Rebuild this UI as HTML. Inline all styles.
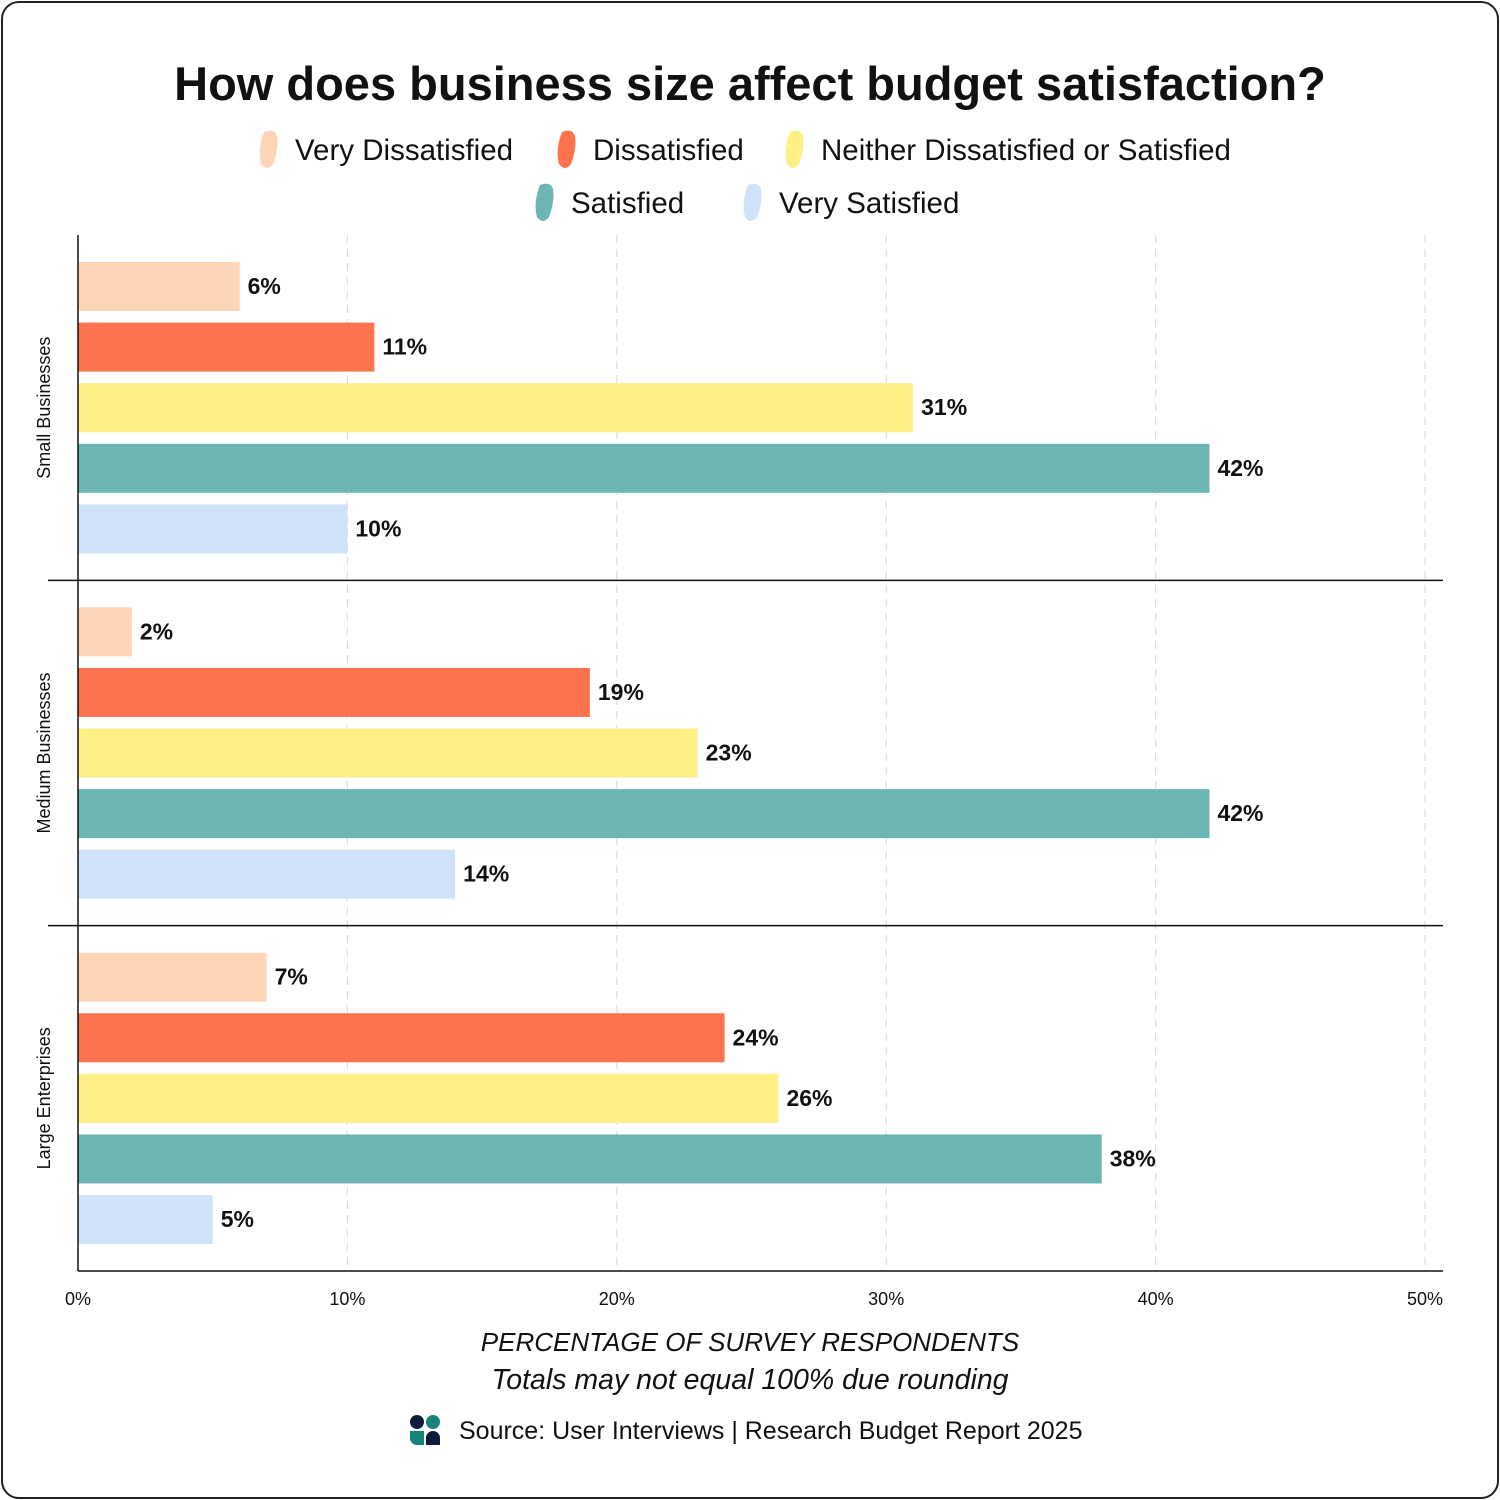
<!DOCTYPE html>
<html><head><meta charset="utf-8">
<style>
html,body{margin:0;padding:0;background:#fff;}
body{width:1500px;height:1500px;position:relative;overflow:hidden;font-family:"Liberation Sans",sans-serif;}
#frame{position:absolute;left:1px;top:1px;width:1494px;height:1494px;border:2px solid #222;border-radius:18px;}
svg{position:absolute;left:0;top:0;}
</style></head><body>
<div id="frame"></div>
<svg id="chart" width="1500" height="1500"></svg>
<script>
const groups = ["Small Businesses","Medium Businesses","Large Enterprises"];
const seriesNames = ["Very Dissatisfied","Dissatisfied","Neither Dissatisfied or Satisfied","Satisfied","Very Satisfied"];
const seriesColors = ["#fed5b6","#fe734d","#fef085","#6bb5b3","#cfe2f8"];
const smallValues = [6,11,31,42,10];
const mediumValues = [2,19,23,42,14];
const largeValues = [7,24,26,38,5];
const ticks = [0,10,20,30,40,50];
const tickLabels = ["0%","10%","20%","30%","40%","50%"];
const values = [smallValues, mediumValues, largeValues];

const NS="http://www.w3.org/2000/svg";
const svg=document.getElementById('chart');
function mk(tag,attrs,parent){const e=document.createElementNS(NS,tag);for(const k in attrs)e.setAttribute(k,attrs[k]);(parent||svg).appendChild(e);return e;}
const plotLeft=78,plotRight=1425,plotTop=235,plotBottom=1271,plotEdge=1443;
const xs=v=>plotLeft+(v/50)*(plotRight-plotLeft);
const bandH=(plotBottom-plotTop)/groups.length;

let t=mk('text',{x:750,y:100,'text-anchor':'middle','font-size':47,'font-weight':'bold',fill:'#111'});
t.textContent="How does business size affect budget satisfaction?";



const legendPos=[[270,150],[568,150],[796,150],[546,203],[754,203]];
seriesNames.forEach((n,i)=>{
  const g=mk('g',{});
  
  
  const [lx,ly]=legendPos[i];
  mk('path',{d:`M${lx-6},${ly-18} q10,-4 13,4 q2,12 -4,28 q-6,8 -12,0 q-4,-14 3,-32z`,fill:seriesColors[i]},g);
  const tx=mk('text',{x:lx+25,y:ly+10,'font-size':29.5,fill:'#111'},g);
  tx.textContent=n;
});

ticks.forEach((v,i)=>{
  if(v>0){const l=mk('line',{x1:xs(v),x2:xs(v),y1:plotTop,y2:plotBottom,stroke:'#ddd','stroke-width':1.2,'stroke-dasharray':'8,6'});
  
  }
  const tl=mk('text',{x:xs(v),y:1305,'text-anchor':'middle','font-size':18,fill:'#111'});
  tl.textContent=tickLabels[i];
  
  
});

groups.forEach((gname,gi)=>{
  const gt=plotTop+gi*bandH;
  const lab=mk('text',{transform:`translate(50,${gt+bandH/2}) rotate(-90)`,'text-anchor':'middle','font-size':18,fill:'#111'});
  lab.textContent=gname;
  
  
  values[gi].forEach((v,si)=>{
    const y=gt+27+si*60.6;
    const r=mk('rect',{x:plotLeft,y:y,width:xs(v)-plotLeft,height:49,fill:seriesColors[si]});
    
    
    const vl=mk('text',{x:xs(v)+8,y:y+32,'font-size':23,'font-weight':'bold',fill:'#111'});
    vl.textContent=v+'%';
    
    
  });
  if(gi>0){const s=mk('line',{x1:48,x2:plotEdge,y1:gt,y2:gt,stroke:'#111','stroke-width':1.5});
  
  }
});

const ya=mk('line',{x1:plotLeft,x2:plotLeft,y1:plotTop,y2:plotBottom,stroke:'#111','stroke-width':1.5});


const xa=mk('line',{x1:plotLeft,x2:plotEdge,y1:plotBottom,y2:plotBottom,stroke:'#111','stroke-width':1.5});



const at=mk('text',{x:750,y:1351,'text-anchor':'middle','font-size':26,'font-style':'italic',fill:'#111'});
at.textContent="PERCENTAGE OF SURVEY RESPONDENTS";


const st=mk('text',{x:750,y:1389,'text-anchor':'middle','font-size':28.5,'font-style':'italic',fill:'#111'});
st.textContent="Totals may not equal 100% due rounding";



const lg=mk('g',{});


mk('circle',{cx:417,cy:1422,r:7,fill:'#0d1b3e'},lg);
mk('circle',{cx:433,cy:1422,r:7,fill:'#17837a'},lg);
mk('path',{d:'M410,1431 h14 v14 h-7 a7,7 0 0 1 -7,-7z',fill:'#17837a'},lg);
mk('path',{d:'M426,1445 v-7 a7,7 0 0 1 14,0 v7z',fill:'#0d1b3e'},lg);
const src=mk('text',{x:459,y:1439,'font-size':25,fill:'#111'});
src.textContent="Source: User Interviews | Research Budget Report 2025";


</script>
</body></html>
